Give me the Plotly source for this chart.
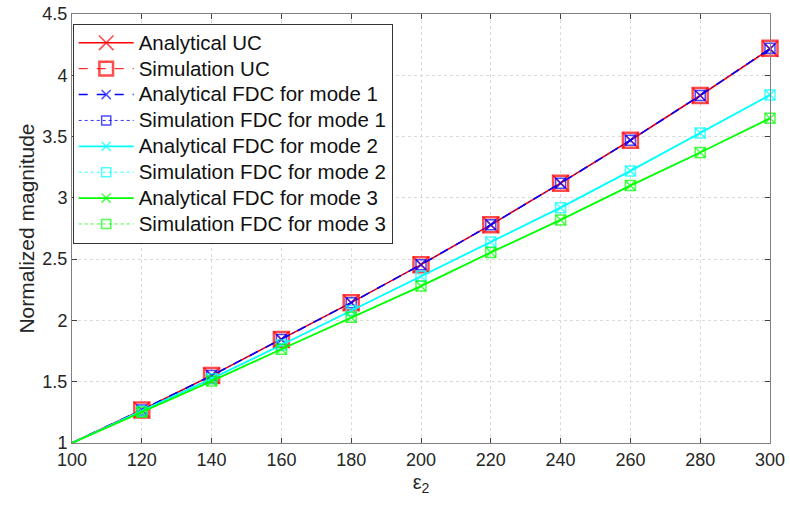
import plotly.graph_objects as go

eps2 = [100, 120, 140, 160, 180, 200, 220, 240, 260, 280, 300]
ana_uc = [1.0, 1.27, 1.55, 1.845, 2.145, 2.455, 2.78, 3.12, 3.47, 3.835, 4.215]
sim_uc = [1.0, 1.27, 1.55, 1.845, 2.145, 2.455, 2.78, 3.12, 3.47, 3.835, 4.22]
ana_m1 = [1.0, 1.27, 1.55, 1.845, 2.145, 2.455, 2.78, 3.12, 3.47, 3.835, 4.215]
sim_m1 = [1.0, 1.27, 1.55, 1.845, 2.145, 2.455, 2.78, 3.12, 3.47, 3.835, 4.22]
ana_m2 = [1.0, 1.26, 1.525, 1.80, 2.08, 2.36, 2.64, 2.92, 3.22, 3.53, 3.84]
sim_m2 = [1.0, 1.26, 1.525, 1.80, 2.08, 2.36, 2.64, 2.92, 3.22, 3.53, 3.84]
ana_m3 = [1.0, 1.25, 1.505, 1.765, 2.025, 2.28, 2.555, 2.82, 3.10, 3.37, 3.65]
sim_m3 = [1.0, 1.25, 1.505, 1.765, 2.025, 2.28, 2.555, 2.82, 3.10, 3.37, 3.65]

names = ["Analytical UC", "Simulation UC", "Analytical FDC for mode 1",
         "Simulation FDC for mode 1", "Analytical FDC for mode 2",
         "Simulation FDC for mode 2", "Analytical FDC for mode 3",
         "Simulation FDC for mode 3"]

def sizes(s):
    return [0] + [s] * (len(eps2) - 1)

styles = [
    (ana_uc, "#ff0000", "solid", 1.6, "x-thin-open", 16, 1.6),
    (sim_uc, "#ff0000", "dash", 1.0, "square-open", 15, 2.5),
    (ana_m1, "#0000ff", "dash", 1.6, "x-thin-open", 10, 1.5),
    (sim_m1, "#0000ff", "dot", 0.8, "square-open", 10, 1.5),
    (ana_m2, "#00ffff", "solid", 1.8, "x-thin-open", 10, 1.5),
    (sim_m2, "#00ffff", "dot", 0.8, "square-open", 10, 1.5),
    (ana_m3, "#00ff00", "solid", 1.8, "x-thin-open", 10, 1.5),
    (sim_m3, "#00ff00", "dot", 0.8, "square-open", 10, 1.5),
]

fig = go.Figure()
for name, (ys, col, dash, lw, sym, ms, mlw) in zip(names, styles):
    fig.add_trace(go.Scatter(
        x=eps2, y=ys, name='<span style="font-size:20.5px">' + name + '</span>',
        mode="lines+markers",
        line=dict(color=col, dash=dash, width=lw),
        marker=dict(symbol=sym, size=sizes(ms), color=col,
                    line=dict(color=col, width=mlw)),
        cliponaxis=False,
    ))

axis_common = dict(
    showline=True, linecolor="#808080", linewidth=1, mirror="ticks",
    ticks="inside", ticklen=5, tickcolor="#404040", automargin=False,
    showgrid=True, gridcolor="#dadada", griddash="dot", gridwidth=1,
    zeroline=False, tickfont=dict(family="Liberation Sans, Arial", size=18, color="#262626"),
)

fig.update_layout(
    width=790, height=506,
    margin=dict(l=72, r=20, t=14, b=63),
    plot_bgcolor="white", paper_bgcolor="white",
    font=dict(family="Liberation Sans, Arial", color="#262626"),
    xaxis=dict(range=[100, 300], tickvals=eps2,
               title=dict(text="ε<sub>2</sub>", font=dict(size=20), standoff=6),
               **axis_common),
    yaxis=dict(range=[1, 4.5], tickvals=[1, 1.5, 2, 2.5, 3, 3.5, 4, 4.5],
               ticktext=["1", "1.5", "2", "2.5", "3", "3.5", "4", "4.5"],
               title=dict(text="Normalized magnitude", font=dict(size=21), standoff=2),
               **axis_common),
    legend=dict(x=0.001, y=0.977, xanchor="left", yanchor="top",
                bgcolor="white", bordercolor="#333333", borderwidth=1,
                font=dict(size=17.6, color="#111111"), itemwidth=55,
                tracegroupgap=0),
    showlegend=True,
)

fig.write_html("out.html")
